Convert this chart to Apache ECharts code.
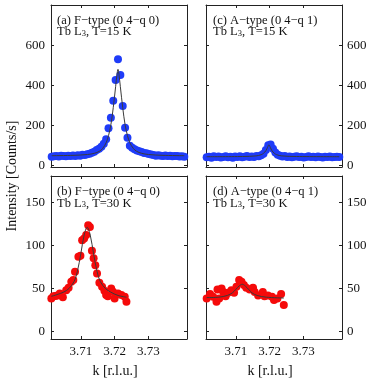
<!DOCTYPE html>
<html>
<head>
<meta charset="utf-8">
<script src="https://cdn.jsdelivr.net/npm/echarts@6/dist/echarts.min.js"></script>
<style>
html, body { margin: 0; padding: 0; background: #fff; }
#main { width: 374px; height: 381px; }
</style>
</head>
<body>
<div id="main"></div>
<script>
// k 扫描点 (a)(c) 15 K
var kTop = [3.7014, 3.7021, 3.7028, 3.7035, 3.7042, 3.7049, 3.7056, 3.7063, 3.7070, 3.7077,
	3.7084, 3.7091, 3.7098, 3.7105, 3.7112, 3.7119, 3.7126, 3.7133, 3.7140, 3.7147,
	3.7154, 3.7161, 3.7168, 3.7175, 3.7182, 3.7189, 3.7196, 3.7203, 3.7210, 3.7217,
	3.7224, 3.7231, 3.7238, 3.7245, 3.7252, 3.7259, 3.7266, 3.7273, 3.7280, 3.7287,
	3.7294, 3.7301, 3.7308, 3.7315, 3.7322, 3.7329, 3.7336, 3.7343, 3.7350, 3.7357,
	3.7364, 3.7371, 3.7378, 3.7385, 3.7392, 3.7399, 3.7406]
var aCounts = [45, 47, 48, 46, 50, 49, 47, 50, 48, 51,
	49, 52, 50, 55, 53, 57, 60, 65, 70, 78,
	85, 95, 110, 132, 187, 240, 325, 428, 532, 453,
	298, 190, 140, 100, 90, 82, 76, 72, 68, 64,
	62, 58, 56, 54, 50, 52, 50, 49, 51, 48,
	50, 47, 49, 48, 46, 47, 45]
var cCounts = [42, 45, 40, 47, 43, 46, 41, 44, 47, 42,
	45, 40, 46, 43, 47, 42, 45, 48, 43, 46,
	44, 48, 47, 52, 60, 78, 102, 106, 85, 66,
	55, 50, 46, 48, 43, 46, 42, 45, 47, 43,
	45, 41, 44, 47, 43, 45, 42, 46, 44, 41,
	45, 43, 46, 42, 44, 45, 43]
// 拟合曲线
var kFitA = [3.7014, 3.7080, 3.7120, 3.7140, 3.7155, 3.7165, 3.7175, 3.7182, 3.7189, 3.7196, 3.7203, 3.7207, 3.7210,
	3.7213, 3.7217, 3.7224, 3.7231, 3.7238, 3.7245, 3.7255, 3.7265, 3.7280, 3.7300, 3.7340, 3.7406]
var fitA = [50, 52, 56, 62, 72, 87, 115, 150, 205, 290, 395, 455, 482,
	455, 395, 290, 205, 150, 115, 87, 72, 62, 56, 52, 50]
var kFitC = [3.7014, 3.7120, 3.7160, 3.7175, 3.7182, 3.7189, 3.7194, 3.7198, 3.7202, 3.7207, 3.7214, 3.7221, 3.7236, 3.7280, 3.7406]
var fitC = [45, 46, 49, 55, 62, 75, 92, 105, 92, 75, 62, 55, 49, 46, 45]

// (b)(d) 30 K
var kB = [3.7013, 3.7019, 3.7025, 3.7031, 3.7038, 3.7047, 3.7057, 3.7064, 3.7072, 3.7078,
	3.7083, 3.7093, 3.7099, 3.7104, 3.7110, 3.7116, 3.7122, 3.7127, 3.7133, 3.7138,
	3.7143, 3.7148, 3.7155, 3.7163, 3.7170, 3.7175, 3.7180, 3.7190, 3.7195, 3.7200,
	3.7210, 3.7220, 3.7230, 3.7235]
var bCounts = [38.6, 41, 41.3, 42, 44.4, 39.8, 48, 51, 57.9, 60,
	69.4, 86.8, 88, 106, 108, 112, 123.5, 121.5, 93.7, 85,
	77, 67.5, 56.7, 52, 47.4, 42.5, 41, 50.2, 46.3, 38.6,
	44.4, 42.5, 40.5, 34.7]
var kFitB = [3.7013, 3.7030, 3.7050, 3.7065, 3.7080, 3.7090, 3.7100, 3.7110, 3.7119, 3.7128, 3.7138, 3.7148, 3.7158, 3.7173, 3.7188, 3.7210, 3.7235]
var fitB = [41, 43, 46, 50, 58, 70, 90, 112, 121, 112, 90, 70, 58, 50, 46, 42, 40]

var kD = [3.7014, 3.7024, 3.7033, 3.7043, 3.7046, 3.7051, 3.7058, 3.7063, 3.7070, 3.7077,
	3.7087, 3.7095, 3.7102, 3.7110, 3.7117, 3.7124, 3.7131, 3.7141, 3.7151, 3.7156,
	3.7166, 3.7180, 3.7185, 3.7195, 3.7207, 3.7213, 3.7223, 3.7234, 3.7242]
var dCounts = [38.6, 43.6, 40.5, 34.7, 49, 38.6, 50, 46, 41, 45,
	48, 45, 52, 60, 58, 54, 51, 49, 51, 46,
	42, 46, 41, 42, 40.5, 36.7, 38.6, 43.6, 30.9]
var kFitD = [3.7014, 3.7050, 3.7075, 3.7090, 3.7100, 3.7110, 3.7119, 3.7128, 3.7138, 3.7148, 3.7163, 3.7190, 3.7242]
var fitD = [39.5, 40, 42, 45, 49, 53, 55, 53, 49, 45, 42, 40, 39]

var kTicks = [3.71, 3.72, 3.73]
var topTicks = [0, 200, 400, 600]
var botTicks = [0, 50, 100, 150]

var FONT = 'Liberation Serif'
var BOX = '#222'

function pairs(xs, ys) {
	return xs.map(function(x, i) {
		return [x, ys[i]]
	})
}

// 四个面板: a, c, b, d
var panels = [
	{ grid: { left: 51, top: 5, width: 136, height: 162 }, yMin: -6.5, yMax: 803.5, yTicks: topTicks, ySide: 'left', xLabel: false },
	{ grid: { left: 206, top: 5, width: 136, height: 162 }, yMin: -6.5, yMax: 803.5, yTicks: topTicks, ySide: 'right', xLabel: false },
	{ grid: { left: 51, top: 176, width: 136, height: 163 }, yMin: -8.5, yMax: 180.5, yTicks: botTicks, ySide: 'left', xLabel: true },
	{ grid: { left: 206, top: 176, width: 136, height: 163 }, yMin: -8.5, yMax: 180.5, yTicks: botTicks, ySide: 'right', xLabel: true }
]

var grids = []
var xAxes = []
var yAxes = []
panels.forEach(function(p, g) {
	grids.push(p.grid)
	;['bottom', 'top'].forEach(function(pos) {
		var main = pos === 'bottom'
		xAxes.push({
			type: 'value',
			gridIndex: g,
			position: pos,
			min: 3.7012,
			max: 3.7414,
			name: main && p.xLabel ? 'k [r.l.u.]' : '',
			nameLocation: 'middle',
			nameGap: 25,
			nameTextStyle: { fontFamily: FONT, fontSize: 14, color: '#111', padding: [0, 8, 0, 0] },
			axisLine: { show: true, onZero: false, lineStyle: { color: BOX, width: 1 } },
			axisTick: { show: true, inside: true, length: 3, customValues: kTicks, lineStyle: { color: BOX } },
			axisLabel: {
				show: main && p.xLabel,
				customValues: kTicks,
				margin: 6,
				fontFamily: FONT,
				fontSize: 13,
				color: '#111'
			},
			splitLine: { show: false }
		})
	})
	;['left', 'right'].forEach(function(pos) {
		var main = pos === p.ySide
		yAxes.push({
			type: 'value',
			gridIndex: g,
			position: pos,
			min: p.yMin,
			max: p.yMax,
			axisLine: { show: true, onZero: false, lineStyle: { color: BOX, width: 1 } },
			axisTick: { show: true, inside: true, length: 3, customValues: p.yTicks, lineStyle: { color: BOX } },
			axisLabel: {
				show: main,
				customValues: p.yTicks,
				margin: pos === 'left' ? 6 : 5,
				fontFamily: FONT,
				fontSize: 13,
				color: '#111'
			},
			splitLine: { show: false }
		})
	})
})

var BLUE = '#1f3cf8'
var RED = '#f50a0a'
var sets = [
	{ pts: pairs(kTop, aCounts), fit: pairs(kFitA, fitA), color: BLUE },
	{ pts: pairs(kTop, cCounts), fit: pairs(kFitC, fitC), color: BLUE },
	{ pts: pairs(kB, bCounts), fit: pairs(kFitB, fitB), color: RED },
	{ pts: pairs(kD, dCounts), fit: pairs(kFitD, fitD), color: RED }
]
var series = []
sets.forEach(function(s, g) {
	series.push({
		type: 'scatter',
		xAxisIndex: 2 * g,
		yAxisIndex: 2 * g,
		symbolSize: 8,
		itemStyle: { color: s.color, opacity: 1 },
		data: s.pts,
		z: 2
	})
	series.push({
		type: 'line',
		xAxisIndex: 2 * g,
		yAxisIndex: 2 * g,
		showSymbol: false,
		smooth: 0.35,
		lineStyle: { color: '#3a3a3a', width: 1 },
		data: s.fit,
		z: 3
	})
})

var richStyle = {
	sub: { fontFamily: FONT, fontSize: 8.5, fill: '#111', verticalAlign: 'bottom', lineHeight: 12 },
	n: { fontFamily: FONT, fontSize: 12.5, fill: '#111', lineHeight: 12 }
}
function note(x, y, txt, rich) {
	return {
		type: 'text',
		x: x,
		y: y,
		style: {
			text: txt,
			font: '12.5px "' + FONT + '"',
			fill: '#111',
			verticalAlign: 'middle',
			rich: rich ? richStyle : undefined
		}
	}
}

var graphics = [
	note(57, 20.5, '(a) F\u2212type (0 4\u2212q 0)'),
	note(57, 32, '{n|Tb L}{sub|3}{n|, T=15 K}', true),
	note(213, 20.5, '(c) A\u2212type (0 4\u2212q 1)'),
	note(213, 32, '{n|Tb L}{sub|3}{n|, T=15 K}', true),
	note(57, 192, '(b) F\u2212type (0 4\u2212q 0)'),
	note(57, 203.5, '{n|Tb L}{sub|3}{n|, T=30 K}', true),
	note(213, 192, '(d) A\u2212type (0 4\u2212q 1)'),
	note(213, 203.5, '{n|Tb L}{sub|3}{n|, T=30 K}', true),
	{
		type: 'text',
		x: 12,
		y: 176,
		rotation: Math.PI / 2,
		style: {
			text: 'Intensity [Counts/s]',
			font: '14px "' + FONT + '"',
			fill: '#111',
			align: 'center',
			verticalAlign: 'middle'
		}
	}
]

var myChart = echarts.init(document.getElementById('main'))
myChart.setOption({
	animation: false,
	backgroundColor: '#fff',
	grid: grids,
	xAxis: xAxes,
	yAxis: yAxes,
	series: series,
	graphic: graphics
})
</script>
</body>
</html>
